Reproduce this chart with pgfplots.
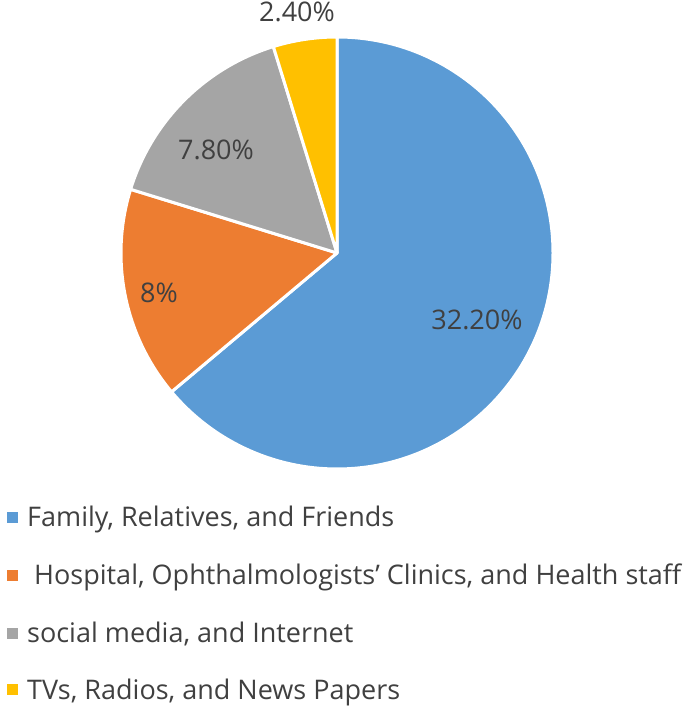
\documentclass[border=0pt]{standalone}
\usepackage{pgfplots}
\pgfplotsset{compat=1.18}
\usepackage{fontspec}
\setmainfont{Open Sans}
\definecolor{cblue}{HTML}{5B9BD5}
\definecolor{corange}{HTML}{ED7D31}
\definecolor{cgray}{HTML}{A5A5A5}
\definecolor{cyellow}{HTML}{FFC000}
\definecolor{ctext}{HTML}{404040}
\begin{document}
\begin{tikzpicture}
\path[use as bounding box] (0,0) rectangle (685pt,708pt);
\begin{axis}[hide axis, scale only axis, width=685pt, height=708pt,
  xmin=0, xmax=685, ymin=0, ymax=708, anchor=south west, at={(0,0)}, clip=false]
\pgfplotsextra{
  \pgfmathsetmacro\tot{32.2+8+7.8+2.4}
  \xdef\startang{90}
  \foreach \v/\c in {32.2/cblue, 8/corange, 7.8/cgray, 2.4/cyellow}{
    \pgfmathsetmacro\endang{\startang-360*\v/\tot}
    \fill[\c, draw=white, line width=3pt, line join=round] (axis cs:337,455) -- ++(\startang:216pt) arc[start angle=\startang, end angle=\endang, radius=216pt] -- cycle;
    \xdef\startang{\endang}
  }
  \foreach \t/\x/\y in {32.20\%/477/388, 8\%/159/415, 7.80\%/216/558, 2.40\%/297/696}{
    \node[text=ctext, font=\fontsize{27}{32}\selectfont] at (axis cs:\x,\y) {\t};
  }
  \foreach \c/\t/\y [count=\i] in {cblue/{Family, Relatives, and Friends}/181,
      corange/{\ Hospital, Ophthalmologists’ Clinics, and Health staff}/123,
      cgray/{social media, and Internet}/65,
      cyellow/{TVs, Radios, and News Papers}/9}{
    \fill[\c] (axis cs:7,\y+4) rectangle (axis cs:18,\y+15);
    \node[anchor=base west, inner sep=0pt, text=ctext, font=\fontsize{27}{32}\selectfont] at (axis cs:27,\y) {\t};
  }
}
\end{axis}
\end{tikzpicture}
\end{document}
